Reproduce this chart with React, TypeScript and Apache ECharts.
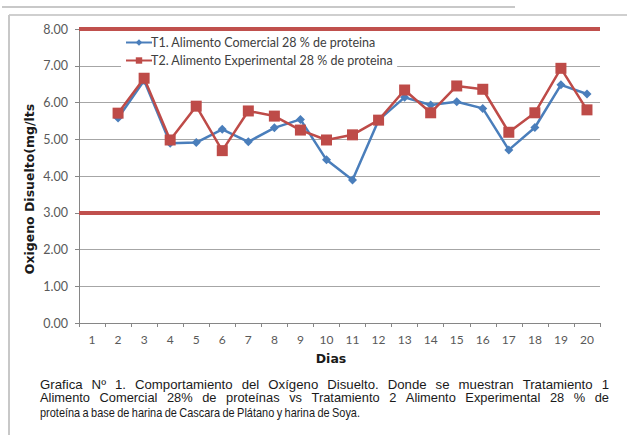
import React, { useEffect, useRef } from "react";
import * as echarts from "echarts";

const days = ["1","2","3","4","5","6","7","8","9","10","11","12","13","14","15","16","17","18","19","20"];
const t1Values: (number | null)[] = [null, 5.58, 6.6, 4.89, 4.91, 5.27, 4.93, 5.31, 5.54, 4.44, 3.89, 5.52, 6.14, 5.93, 6.02, 5.84, 4.71, 5.32, 6.48, 6.23];
const t2Values: (number | null)[] = [null, 5.71, 6.66, 4.98, 5.9, 4.69, 5.77, 5.63, 5.25, 4.98, 5.12, 5.52, 6.34, 5.72, 6.45, 6.36, 5.19, 5.72, 6.93, 5.8];
const limits = [8, 3];
const t1Name = "T1. Alimento Comercial 28 % de proteina";
const t2Name = "T2. Alimento Experimental 28 % de proteina";
const yTitle = "Oxigeno Disuelto(mg/lts";
const xTitle = "Dias";
const captionLines = [
  "Grafica Nº 1.  Comportamiento del Oxígeno Disuelto. Donde se muestran Tratamiento 1",
  "Alimento Comercial 28% de proteínas vs Tratamiento 2 Alimento Experimental 28 % de",
  "proteína a base de harina de Cascara de Plátano y harina de Soya.",
];

const FONT = "Lato, 'Open Sans', sans-serif";
const CAP_FONT_FAMILY = "'Liberation Sans', Arial, sans-serif";
const CAP_SIZE = 12.5;
const CAP_LEFT = 40;
const CAP_RIGHTS = [609, 609, 360];
const CAP_GAPS = [9, 9.5, 2.4];
const CAP_TOPS = [378, 392, 406];

function measure(text: string, font: string): number {
  const c = document.createElement("canvas");
  const ctx = c.getContext("2d");
  if (!ctx) return text.length * 6;
  ctx.font = font;
  return ctx.measureText(text).width;
}

function captionGraphics() {
  const els: any[] = [];
  const font = `${CAP_SIZE}px ${CAP_FONT_FAMILY}`;
  captionLines.forEach((line, i) => {
    const words = line.split(/\s+/);
    const natural = words.map((w) => measure(w, font));
    const total = natural.reduce((a, b) => a + b, 0);
    const gap = CAP_GAPS[i];
    const scale = (CAP_RIGHTS[i] - CAP_LEFT - gap * (words.length - 1)) / total;
    let x = CAP_LEFT;
    words.forEach((w, k) => {
      els.push({
        type: "text",
        x,
        y: CAP_TOPS[i],
        scaleX: scale,
        style: { text: w, font, fill: "#1a1a1a", verticalAlign: "top" },
      });
      x += natural[k] * scale + gap;
    });
  });
  return els;
}

export default function App() {
  const ref = useRef<HTMLDivElement>(null);
  useEffect(() => {
    if (!ref.current) return;
    const chart = echarts.init(ref.current, null, { renderer: "svg" });
    chart.setOption({
      animation: false,
      backgroundColor: "#ffffff",
      grid: { left: 79, right: 27, top: 29, bottom: 112, containLabel: false },
      legend: {
        left: 121,
        top: 34,
        orient: "vertical",
        itemWidth: 26,
        itemHeight: 8,
        itemGap: 5,
        backgroundColor: "#ffffff",
        padding: [2, 4, 2, 4],
        textStyle: { fontFamily: FONT, fontSize: 12.5, color: "#404040", padding: [0, 0, 0, -6] },
        data: [t1Name, t2Name],
      },
      xAxis: {
        type: "category",
        data: days,
        boundaryGap: true,
        axisLine: { lineStyle: { color: "#868686", width: 1 } },
        axisTick: { show: true, alignWithLabel: false, length: 4, lineStyle: { color: "#868686" } },
        axisLabel: { fontFamily: FONT, fontSize: 12, color: "#595959", margin: 10 },
      },
      yAxis: {
        type: "value",
        min: 0,
        max: 8,
        interval: 1,
        axisLine: { show: true, lineStyle: { color: "#868686", width: 1 } },
        axisTick: { show: true, length: 4, lineStyle: { color: "#868686" } },
        axisLabel: {
          fontFamily: FONT,
          fontSize: 12.5,
          color: "#595959",
          margin: 11,
          formatter: (v: number) => v.toFixed(2),
        },
        splitLine: { show: true, lineStyle: { color: "#a6a6a6", width: 1.2 } },
      },
      series: [
        {
          name: t1Name,
          type: "line",
          data: t1Values,
          connectNulls: false,
          symbol: "diamond",
          symbolSize: 9,
          itemStyle: { color: "#4a7ebb" },
          lineStyle: { color: "#4a7ebb", width: 2.5 },
          z: 3,
        },
        {
          name: t2Name,
          type: "line",
          data: t2Values,
          connectNulls: false,
          symbol: "rect",
          symbolSize: 11,
          itemStyle: { color: "#be4b48" },
          lineStyle: { color: "#be4b48", width: 2.5 },
          z: 4,
        },
        {
          name: "limits",
          type: "line",
          data: [],
          silent: true,
          markLine: {
            silent: true,
            symbol: "none",
            label: { show: false },
            lineStyle: { color: "#c0504d", width: 4, type: "solid" },
            data: limits.map((v) => ({ yAxis: v })),
          },
          z: 2,
        },
      ],
      graphic: [
        { type: "line", shape: { x1: 2, y1: 7, x2: 515, y2: 7 }, style: { stroke: "#c8c8c8", lineWidth: 2 } },
        { type: "line", shape: { x1: 9, y1: 15, x2: 627, y2: 15 }, style: { stroke: "#cfcfcf", lineWidth: 2 } },
        { type: "line", shape: { x1: 9, y1: 15, x2: 9, y2: 435 }, style: { stroke: "#c8c8c8", lineWidth: 2 } },
        {
          type: "text",
          x: 29,
          y: 189,
          rotation: Math.PI / 2,
          style: {
            text: yTitle,
            font: `bold 12.5px 'DejaVu Sans', sans-serif`,
            fill: "#1a1a1a",
            align: "center",
            verticalAlign: "middle",
          },
        },
        {
          type: "text",
          x: 331,
          y: 358,
          style: {
            text: xTitle,
            font: `bold 12.5px 'DejaVu Sans', sans-serif`,
            fill: "#1a1a1a",
            align: "center",
            verticalAlign: "middle",
          },
        },
        ...captionGraphics(),
      ],
    });
    return () => chart.dispose();
  }, []);
  return <div ref={ref} style={{ position: "fixed", left: 0, top: 0, width: 627, height: 435 }} />;
}
